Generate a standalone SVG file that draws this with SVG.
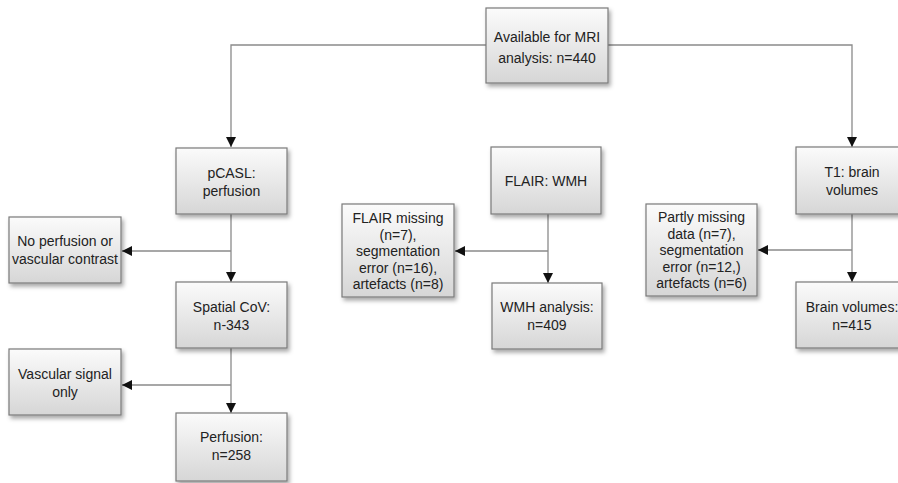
<svg xmlns="http://www.w3.org/2000/svg" width="898" height="483" viewBox="0 0 898 483">
  <defs>
    <linearGradient id="boxFill" x1="0" y1="0" x2="0" y2="1">
      <stop offset="0" stop-color="#fbfbfb"/>
      <stop offset="1" stop-color="#d6d6d6"/>
    </linearGradient>
    <filter id="shadow" x="-10%" y="-10%" width="125%" height="130%">
      <feDropShadow dx="2" dy="3" stdDeviation="2" flood-color="#000" flood-opacity="0.35"/>
    </filter>
    <marker id="arrow" viewBox="0 0 10 10" refX="10" refY="5" markerWidth="10" markerHeight="10" markerUnits="userSpaceOnUse" orient="auto">
      <path d="M0,0 L10,5 L0,10 Z" fill="#111"/>
    </marker>
  </defs>
  <style>
    .box { fill: url(#boxFill); stroke: #7a7a7a; stroke-width: 1.2; filter: url(#shadow); }
    .lbl { font-family: "Liberation Sans", Arial, sans-serif; font-size: 14px; fill: #222; text-anchor: middle; }
    .conn { fill: none; stroke: #8a8a8a; stroke-width: 1.3; }
  </style>

  <!-- connectors -->
  <g id="connectors">
    <path class="conn" d="M486,45 H231 V147" marker-end="url(#arrow)"/>
    <path class="conn" d="M608,45 H852 V147" marker-end="url(#arrow)"/>
    <path class="conn" d="M231,214 V282" marker-end="url(#arrow)"/>
    <path class="conn" d="M231,251 H122" marker-end="url(#arrow)"/>
    <path class="conn" d="M231,348 V413" marker-end="url(#arrow)"/>
    <path class="conn" d="M231,385 H122" marker-end="url(#arrow)"/>
    <path class="conn" d="M548,214 V283" marker-end="url(#arrow)"/>
    <path class="conn" d="M548,251 H455" marker-end="url(#arrow)"/>
    <path class="conn" d="M852,214 V282" marker-end="url(#arrow)"/>
    <path class="conn" d="M852,250 H758" marker-end="url(#arrow)"/>
  </g>

  <g id="mri">
    <rect class="box" x="486" y="8" width="122" height="75"/>
    <text class="lbl" x="547" y="42">Available for MRI</text>
    <text class="lbl" x="547" y="63">analysis: n=440</text>
  </g>

  <g id="pcasl">
    <rect class="box" x="176" y="148" width="111" height="66"/>
    <text class="lbl" x="231.5" y="178">pCASL:</text>
    <text class="lbl" x="231.5" y="196">perfusion</text>
  </g>

  <g id="no-perfusion">
    <rect class="box" x="9" y="217" width="112" height="66"/>
    <text class="lbl" x="65" y="246">No perfusion or</text>
    <text class="lbl" x="65" y="264">vascular contrast</text>
  </g>

  <g id="spatial-cov">
    <rect class="box" x="176" y="282" width="111" height="66"/>
    <text class="lbl" x="231.5" y="312">Spatial CoV:</text>
    <text class="lbl" x="231.5" y="330">n-343</text>
  </g>

  <g id="vascular-signal">
    <rect class="box" x="9" y="349" width="112" height="66"/>
    <text class="lbl" x="65" y="379">Vascular signal</text>
    <text class="lbl" x="65" y="397">only</text>
  </g>

  <g id="perfusion">
    <rect class="box" x="176" y="413" width="111" height="68"/>
    <text class="lbl" x="231.5" y="442">Perfusion:</text>
    <text class="lbl" x="231.5" y="460">n=258</text>
  </g>

  <g id="flair">
    <rect class="box" x="491" y="147" width="110" height="67"/>
    <text class="lbl" x="546" y="186">FLAIR: WMH</text>
  </g>

  <g id="flair-excluded">
    <rect class="box" x="342" y="204" width="112" height="93"/>
    <text class="lbl" x="398" y="223">FLAIR missing</text>
    <text class="lbl" x="398" y="239.5">(n=7),</text>
    <text class="lbl" x="398" y="256">segmentation</text>
    <text class="lbl" x="398" y="272.5">error (n=16),</text>
    <text class="lbl" x="398" y="289">artefacts (n=8)</text>
  </g>

  <g id="wmh">
    <rect class="box" x="492" y="283" width="110" height="66"/>
    <text class="lbl" x="547" y="312">WMH analysis:</text>
    <text class="lbl" x="547" y="330">n=409</text>
  </g>

  <g id="t1">
    <rect class="box" x="796" y="147" width="111" height="67"/>
    <text class="lbl" x="852" y="177">T1: brain</text>
    <text class="lbl" x="852" y="195">volumes</text>
  </g>

  <g id="t1-excluded">
    <rect class="box" x="646" y="204" width="111" height="92"/>
    <text class="lbl" x="701.5" y="222">Partly missing</text>
    <text class="lbl" x="701.5" y="238.5">data (n=7),</text>
    <text class="lbl" x="701.5" y="255">segmentation</text>
    <text class="lbl" x="701.5" y="271.5">error (n=12,)</text>
    <text class="lbl" x="701.5" y="288">artefacts (n=6)</text>
  </g>

  <g id="brain-volumes">
    <rect class="box" x="796" y="282" width="111" height="66"/>
    <text class="lbl" x="852" y="312">Brain volumes:</text>
    <text class="lbl" x="852" y="330">n=415</text>
  </g>
</svg>
